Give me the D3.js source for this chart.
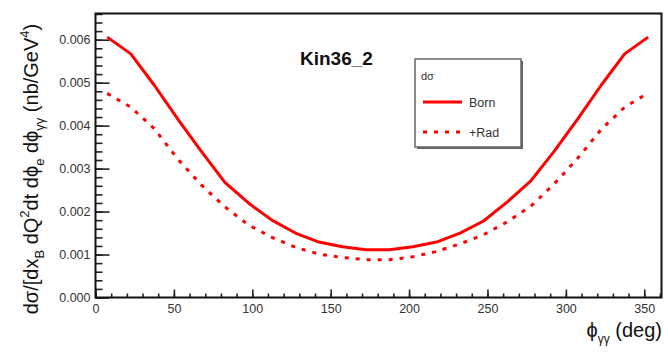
<!DOCTYPE html>
<html>
<head>
<meta charset="utf-8">
<script src="https://cdn.jsdelivr.net/npm/d3@7/dist/d3.min.js"></script>
<style>
  html, body { margin: 0; padding: 0; background: #fff; }
  svg { display: block; font-family: "Liberation Sans", Arial, Helvetica, sans-serif; }
</style>
</head>
<body>
<svg id="chart" width="668" height="354"></svg>
<script>
// ---- data ----
const phi = [7.5, 22.5, 37.5, 52.5, 67.5, 82.5, 97.5, 112.5, 127.5, 142.5, 157.5, 172.5,
             187.5, 202.5, 217.5, 232.5, 247.5, 262.5, 277.5, 292.5, 307.5, 322.5, 337.5, 352.5];
const born = [0.00606, 0.00567, 0.00494, 0.00415, 0.00340, 0.00268, 0.00220, 0.00180,
              0.00150, 0.00129, 0.00118, 0.00111, 0.00111, 0.00118, 0.00129, 0.00150,
              0.00178, 0.00222, 0.00271, 0.00340, 0.00415, 0.00494, 0.00567, 0.00606];
const rad  = [0.00475, 0.00443, 0.00393, 0.00322, 0.00262, 0.00211, 0.00169, 0.00140,
              0.00117, 0.00101, 0.00093, 0.00088, 0.00088, 0.00095, 0.00107, 0.00125,
              0.00146, 0.00176, 0.00212, 0.00264, 0.00324, 0.00391, 0.00443, 0.00476];
const xTicks = [0, 50, 100, 150, 200, 250, 300, 350];
const yTicks = [0, 0.001, 0.002, 0.003, 0.004, 0.005, 0.006];
const xDomain = [0, 361];
const yDomain = [0, 0.00661];
const title = "Kin36_2";
const legendHeader = "dσ";
const seriesNames = ["Born", "+Rad"];

// ---- layout ----
const L = 95.5, R = 661.5, T = 13.5, B = 297.5;
const svg = d3.select("#chart");
const x = d3.scaleLinear().domain(xDomain).range([L, R]);
const y = d3.scaleLinear().domain(yDomain).range([B, T]);

// minor/major ticks
const xMinor = d3.range(0, xDomain[1] + 0.001, 10);
const yMinor = d3.range(0, yDomain[1] + 1e-9, 0.0002);

const gx = svg.append("g").attr("transform", `translate(0,${B})`);
gx.call(d3.axisBottom(x).tickValues(xMinor).tickSize(-4).tickFormat(""));
gx.append("g").call(d3.axisBottom(x).tickValues(xTicks).tickSize(-8).tickFormat(""));
gx.selectAll("path.domain").remove();
gx.selectAll("line").attr("stroke", "#222").attr("stroke-width", 1.6);
gx.append("g").call(d3.axisBottom(x).tickValues(xTicks).tickSize(0).tickPadding(7).tickFormat(d3.format("d")))
  .call(g => g.select("path.domain").remove())
  .selectAll("text").attr("font-size", 12.5).attr("fill", "#333").attr("font-family", "Liberation Sans, Arial, sans-serif");

const gy = svg.append("g").attr("transform", `translate(${L},0)`);
gy.call(d3.axisLeft(y).tickValues(yMinor).tickSize(-7).tickFormat(""));
gy.append("g").call(d3.axisLeft(y).tickValues(yTicks).tickSize(-14).tickFormat(""));
gy.selectAll("path.domain").remove();
gy.selectAll("line").attr("stroke", "#222").attr("stroke-width", 1.6);
gy.append("g").call(d3.axisLeft(y).tickValues(yTicks).tickSize(0).tickPadding(5).tickFormat(d3.format(".3f")))
  .call(g => g.select("path.domain").remove())
  .selectAll("text").attr("font-size", 12.5).attr("fill", "#333").attr("font-family", "Liberation Sans, Arial, sans-serif");

// curves
const line = d3.line().x((d, i) => x(phi[i])).y(d => y(d));
svg.append("path").datum(born).attr("d", line).attr("fill", "none")
  .attr("stroke", "#ff0000").attr("stroke-width", 3).attr("stroke-linejoin", "round");
svg.append("path").datum(rad).attr("d", line).attr("fill", "none")
  .attr("stroke", "#ff0000").attr("stroke-width", 3).attr("stroke-dasharray", "4,7");

// frame
svg.append("rect").attr("x", L).attr("y", T).attr("width", R - L).attr("height", B - T)
  .attr("fill", "none").attr("stroke", "#111").attr("stroke-width", 2);

// title
svg.append("text").attr("x", 300).attr("y", 65).attr("font-size", 19).attr("font-weight", "bold")
  .attr("fill", "#111").text(title);

// legend
const lg = svg.append("g");
const lx = 415, ly = 59, lw = 106, lh = 88;
lg.append("rect").attr("x", lx + 2).attr("y", ly + 2).attr("width", lw).attr("height", lh)
  .attr("fill", "#666");
lg.append("rect").attr("x", lx).attr("y", ly).attr("width", lw).attr("height", lh)
  .attr("fill", "#fff").attr("stroke", "#666").attr("stroke-width", 1.5);
lg.append("text").attr("x", lx + 6).attr("y", ly + 21).attr("font-size", 11).attr("fill", "#333").text(legendHeader);
const entries = [{name: seriesNames[0], dash: null, yy: ly + 43},
                 {name: seriesNames[1], dash: "4,7", yy: ly + 73}];
entries.forEach(e => {
  lg.append("line").attr("x1", lx + 8).attr("x2", lx + 47).attr("y1", e.yy).attr("y2", e.yy)
    .attr("stroke", "#ff0000").attr("stroke-width", 3).attr("stroke-dasharray", e.dash);
  lg.append("text").attr("x", lx + 54).attr("y", e.yy + 5).attr("font-size", 12.5).attr("fill", "#333").text(e.name);
});

// axis titles
const xt = svg.append("text").attr("x", 662).attr("y", 337).attr("text-anchor", "end")
  .attr("font-size", 20).attr("fill", "#111");
xt.append("tspan").text("ϕ");
xt.append("tspan").attr("font-size", 12).attr("dy", 6).text("γγ");
xt.append("tspan").attr("dy", -6).text(" (deg)");

const yt = svg.append("text").attr("transform", "translate(38,169) rotate(-90)")
  .attr("text-anchor", "middle").attr("font-size", 20).attr("fill", "#111");
yt.append("tspan").text("dσ/[dx");
yt.append("tspan").attr("font-size", 13).attr("dy", 6).text("B");
yt.append("tspan").attr("dy", -6).text(" dQ");
yt.append("tspan").attr("font-size", 13).attr("dy", -9).text("2");
yt.append("tspan").attr("dy", 9).text("dt dϕ");
yt.append("tspan").attr("font-size", 13).attr("dy", 6).text("e");
yt.append("tspan").attr("dy", -6).text(" dϕ");
yt.append("tspan").attr("font-size", 13).attr("dy", 6).text("γγ");
yt.append("tspan").attr("dy", -6).text(" (nb/GeV");
yt.append("tspan").attr("font-size", 13).attr("dy", -9).text("4");
yt.append("tspan").attr("dy", 9).text(")");
</script>
</body>
</html>
